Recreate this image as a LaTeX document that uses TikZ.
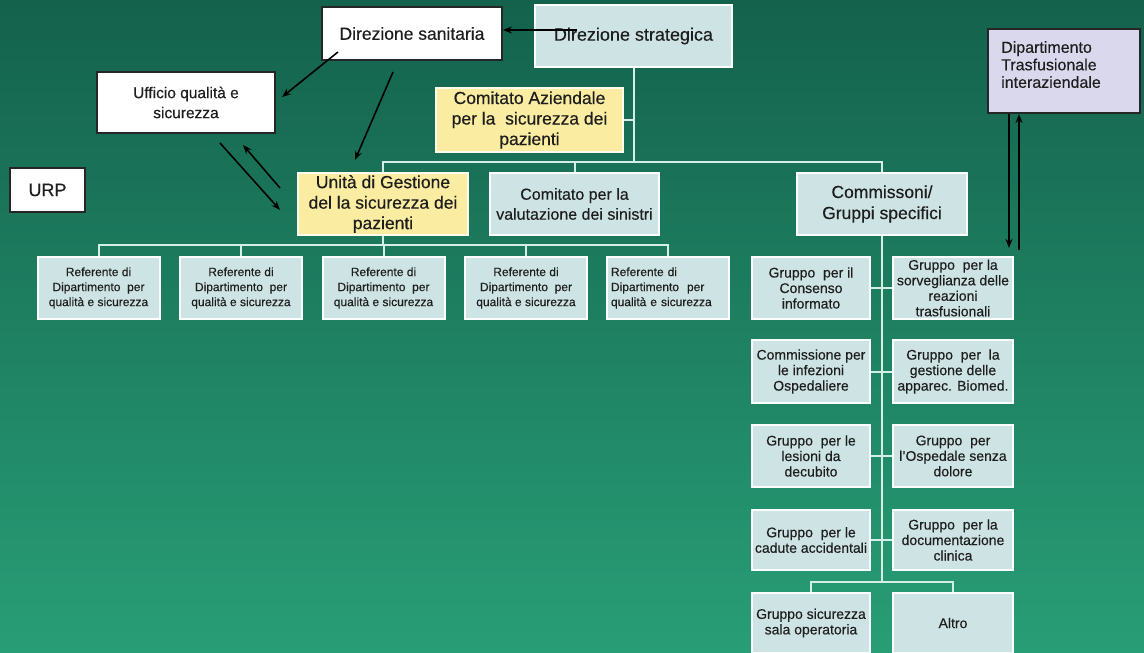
\documentclass[tikz,border=0pt]{standalone}
\usepackage{fontspec}
\setmainfont[FakeBold=0.35]{Liberation Sans}
\usetikzlibrary{arrows.meta,calc}
\definecolor{bgtop}{RGB}{20,98,76}
\definecolor{bgbot}{RGB}{40,158,118}
\definecolor{paleblue}{RGB}{206,228,228}
\definecolor{paleyellow}{RGB}{250,236,160}
\definecolor{lavender}{RGB}{218,216,236}
\definecolor{linkcol}{RGB}{214,238,232}
\definecolor{ink}{RGB}{30,30,30}
\newcommand\fsz[2]{\fontsize{#1pt}{#2pt}\selectfont}
\tikzset{
  box/.style={draw, line width=2pt, inner sep=1pt, align=center, text=ink},
  bluebox/.style={box, fill=paleblue, draw=white!92!paleblue},
  yelbox/.style={box, fill=paleyellow, draw=white!80!paleyellow},
  whitebox/.style={box, fill=white, draw=black!85},
  refbox/.style={bluebox, minimum width=122pt, minimum height=62pt, font=\fsz{12}{15}},
  grpbox/.style={bluebox, minimum width=118pt, font=\fsz{14}{15.5}},
  link/.style={draw=linkcol, line width=2pt},
  arr/.style={draw=black, line width=1.6pt, -{Stealth[length=9pt,width=7pt]}}
}
\begin{document}
\begin{tikzpicture}[x=1pt,y=-1pt]
\useasboundingbox (0,0) rectangle (1144,653);
\shade[top color=bgtop, bottom color=bgbot] (0,0) rectangle (1144,653);

% top level
\node[whitebox, minimum width=180pt, minimum height=53pt, font=\fsz{17.5}{20}] (dsan) at (412,33.5) {Direzione sanitaria};
\node[bluebox, minimum width=197pt, minimum height=62pt, font=\fsz{18}{20}] (dstr) at (633.5,36) {Direzione strategica};
\node[whitebox, minimum width=178pt, minimum height=61pt, font=\fsz{15.5}{20}] (uff) at (186,102.5) {Ufficio qualità e\\sicurezza};
\node[whitebox, minimum width=75pt, minimum height=44pt, font=\fsz{18}{20}] (urp) at (47.5,190) {URP};
\node[yelbox, minimum width=187pt, minimum height=64pt, font=\fsz{17.5}{20.5}] (comaz) at (529.5,120) {Comitato Aziendale\\per la \ sicurezza dei\\pazienti};
\node[draw=black!85, line width=2pt, fill=lavender, minimum width=152pt, minimum height=84pt] (dip) at (1064,71) {};
\node[anchor=north west, align=left, text=ink, inner sep=0pt, font=\fsz{16}{17.5}] (diptxt) at (1001,41) {Dipartimento\\Trasfusionale\\interaziendale};

% second level
\node[yelbox, minimum width=170pt, minimum height=62pt, font=\fsz{17.5}{20.5}] (unita) at (383,204) {Unità di Gestione\\del la sicurezza dei\\pazienti};
\node[bluebox, minimum width=169pt, minimum height=62pt, font=\fsz{16}{20}] (comval) at (574.5,204) {Comitato per la\\valutazione dei sinistri};
\node[bluebox, minimum width=170pt, minimum height=62pt, font=\fsz{17.5}{21}] (comm) at (882,204) {Commissoni/\\Gruppi specifici};

% department referents
\node[refbox] (r1) at (98.5,288) {Referente di\\Dipartimento \ per\\qualità e sicurezza};
\node[refbox] (r2) at (241,288) {Referente di\\Dipartimento \ per\\qualità e sicurezza};
\node[refbox] (r3) at (383.5,288) {Referente di\\Dipartimento \ per\\qualità e sicurezza};
\node[refbox] (r4) at (526,288) {Referente di\\Dipartimento \ per\\qualità e sicurezza};
\node[refbox, text width=114pt, align=left] (r5) at (668,288) {Referente di\\Dipartimento \ per\\qualità e sicurezza};

% specific groups
\node[grpbox, minimum height=62pt] (g1) at (811,288) {Gruppo \ per il\\Consenso\\informato};
\node[grpbox, minimum width=120pt, minimum height=62pt] (g2) at (953,288) {Gruppo \ per la\\sorveglianza delle\\reazioni\\trasfusionali};
\node[grpbox, minimum height=63pt] (g3) at (811,371.5) {Commissione per\\le infezioni\\Ospedaliere};
\node[grpbox, minimum width=120pt, minimum height=63pt] (g4) at (953,371.5) {Gruppo \ per \ la\\gestione delle\\apparec. Biomed.};
\node[grpbox, minimum height=62pt] (g5) at (811,456) {Gruppo \ per le\\lesioni da\\decubito};
\node[grpbox, minimum width=120pt, minimum height=62pt] (g6) at (953,456) {Gruppo \ per\\l'Ospedale senza\\dolore};
\node[grpbox, minimum height=60pt] (g7) at (811,540) {Gruppo \ per le\\cadute accidentali};
\node[grpbox, minimum width=120pt, minimum height=60pt] (g8) at (953,540) {Gruppo \ per la\\documentazione\\clinica};
\node[grpbox, minimum height=60pt] (g9) at (811,623) {Gruppo sicurezza\\sala operatoria};
\node[grpbox, minimum width=120pt, minimum height=60pt] (g10) at (953,623) {Altro};

% tree connectors
\coordinate (hub1) at (633.5,162);
\draw[link] (dstr.south) -- (hub1);
\draw[link] (comaz.east) -- (comaz.east -| hub1);
\draw[link] (unita.north) |- (hub1) -| (comm.north);
\draw[link] (comval.north) -- (comval.north |- hub1);

\coordinate (hub2) at (383,245);
\draw[link] (unita.south) -- (hub2);
\draw[link] (r1.north) |- (hub2) -| (r5.north);
\draw[link] (r2.north) -- (r2.north |- hub2);
\draw[link] (r3.north) -- (r3.north |- hub2);
\draw[link] (r4.north) -- (r4.north |- hub2);

\coordinate (hub3) at (882,582);
\draw[link] (comm.south) -- (hub3);
\draw[link] (g9.north) |- (hub3) -| (g10.north);
\draw[link] (g1.east) -- (g2.west);
\draw[link] (g3.east) -- (g4.west);
\draw[link] (g5.east) -- (g6.west);
\draw[link] (g7.east) -- (g8.west);

% reporting arrows
\coordinate (a1) at (577,30);
\draw[arr] (a1) -- (a1 -| dsan.east);
\coordinate (a2) at (338,52);
\coordinate (a2e) at (282,97);
\draw[arr] (a2) -- (a2e);
\coordinate (a3) at (393,72);
\coordinate (a3e) at (355,160);
\draw[arr] (a3) -- (a3e);
\coordinate (a4) at (220,143);
\coordinate (a4e) at (280,210);
\draw[arr] (a4) -- (a4e);
\coordinate (a5) at (280,188);
\coordinate (a5e) at (243,145);
\draw[arr] (a5) -- (a5e);
\coordinate (a6e) at (1009,248);
\draw[arr] (dip.south -| a6e) -- (a6e);
\coordinate (a7) at (1019,250);
\draw[arr] (a7) -- (a7 |- dip.south);
\end{tikzpicture}
\end{document}
